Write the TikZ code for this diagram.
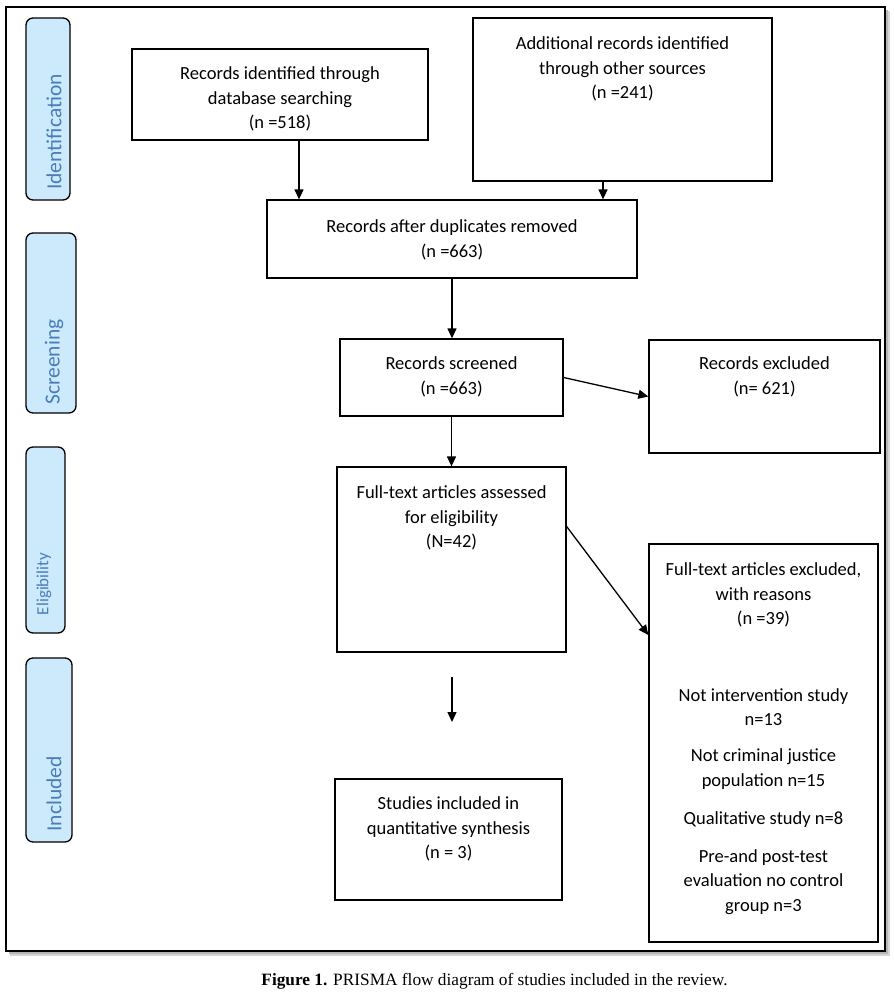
\documentclass[tikz,border=0pt]{standalone}
\usepackage{fontspec}
\setmainfont{Carlito}
\newfontfamily\capfont{Liberation Serif}
\usetikzlibrary{arrows.meta,calc}
\definecolor{sidefill}{RGB}{204,234,251}
\definecolor{sidetext}{RGB}{74,126,187}
\definecolor{shadowgray}{RGB}{150,150,150}
\begin{document}
\begin{tikzpicture}[x=1pt,y=-1pt,
  box/.style={draw=black,line width=1.3pt,rectangle,inner sep=0pt,fill=white},
  txt/.style={align=center,inner sep=0pt,font=\fontsize{18.5}{24.5}\selectfont},
  sidebox/.style={draw=black,line width=1.3pt,rounded corners=7pt,fill=sidefill,inner sep=0pt},
  sidetxt/.style={rotate=90,inner sep=0pt,text=sidetext,font=\fontsize{21.5}{24}\selectfont},
  arr/.style={line width=1.3pt,-{Triangle[length=10pt,width=9pt]}}]
\useasboundingbox (0,0) rectangle (894,994);
% outer frame with shadow
\fill[shadowgray!40] (10,11) rectangle (890,956);
\fill[shadowgray!70] (9,10) rectangle (888,954);
\node[draw=black,line width=1.3pt,fill=white,minimum width=879pt,minimum height=944pt,inner sep=0pt] (frame) at (445.5,479) {};
% side labels
\node[sidebox,minimum width=44pt,minimum height=182pt] (s1) at (48,109) {};
\node[sidetxt] (s1t) at (54,132) {Identification};
\node[sidebox,minimum width=50pt,minimum height=180pt] (s2) at (51,323) {};
\node[sidetxt] (s2t) at (54,362) {Screening};
\node[sidebox,minimum width=39pt,minimum height=186pt] (s3) at (45.5,540) {};
\node[sidetxt,font=\fontsize{17}{20}\selectfont] (s3t) at (44,584) {Eligibility};
\node[sidebox,minimum width=46pt,minimum height=184pt] (s4) at (49,750) {};
\node[sidetxt] (s4t) at (54,794) {Included};
% boxes
\node[box,minimum width=296pt,minimum height=91pt] (b1) at (280,94.5) {};
\node[box,minimum width=299pt,minimum height=163pt] (b2) at (622.5,99.5) {};
\node[box,minimum width=370pt,minimum height=78pt] (b3) at (452,239) {};
\node[box,minimum width=223pt,minimum height=77pt] (b4) at (451.5,377.5) {};
\node[box,minimum width=231pt,minimum height=113pt] (b5) at (764.5,396.5) {};
\node[box,minimum width=229pt,minimum height=185pt] (b6) at (451.5,559.5) {};
\node[box,minimum width=229pt,minimum height=398pt] (b7) at (763.5,743) {};
\node[box,minimum width=227pt,minimum height=121pt] (b8) at (448.5,839.5) {};
% texts
\node[txt] (t1) at (280,99) {Records identified through\\database searching\\(n =518)};
\node[txt] (t2) at (622.5,69) {Additional records identified\\through other sources\\(n =241)};
\node[txt] (t3) at (452,240) {Records after duplicates removed\\(n =663)};
\node[txt] (t4) at (451.5,377) {Records screened\\(n =663)};
\node[txt] (t5) at (764.5,377) {Records excluded\\(n= 621)};
\node[txt] (t6) at (451.5,518) {Full-text articles assessed\\for eligibility\\(N=42)};
\node[txt] (t7a) at (763.5,595) {Full-text articles excluded,\\with reasons\\(n =39)};
\node[txt] (t7b) at (763.5,707) {Not intervention study\\n=13};
\node[txt] (t7c) at (763.5,769) {Not criminal justice\\population n=15};
\node[txt] (t7d) at (763.5,820) {Qualitative study n=8};
\node[txt] (t7e) at (763.5,882) {Pre-and post-test\\evaluation no control\\group n=3};
\node[txt] (t8) at (448.5,829) {Studies included in\\quantitative synthesis\\(n = 3)};
% connectors
\draw[arr] ([xshift=19pt]b1.south) -- ([xshift=19pt]b1.south |- b3.north);
\draw[arr] ([xshift=-19.5pt]b2.south) -- ([xshift=-19.5pt]b2.south |- b3.north);
\draw[arr] (b3.south) -- (b3.south |- b4.north);
\draw[arr] (b4.east) -- (b5.west);
\draw[arr] (b4.south) -- (b4.south |- b6.north);
\draw[arr] ([yshift=33pt]b6.east) -- ([yshift=108pt]b7.west);
\coordinate (fa1) at (452,677);
\coordinate (fa2) at (452,722);
\draw[arr] (fa1) -- (fa2);
% caption
\node[inner sep=0pt,font=\capfont\fontsize{17.3}{20}\selectfont] (cap) at (494.5,981) {\textbf{Figure 1.} PRISMA flow diagram of studies included in the review.};
\end{tikzpicture}
\end{document}
